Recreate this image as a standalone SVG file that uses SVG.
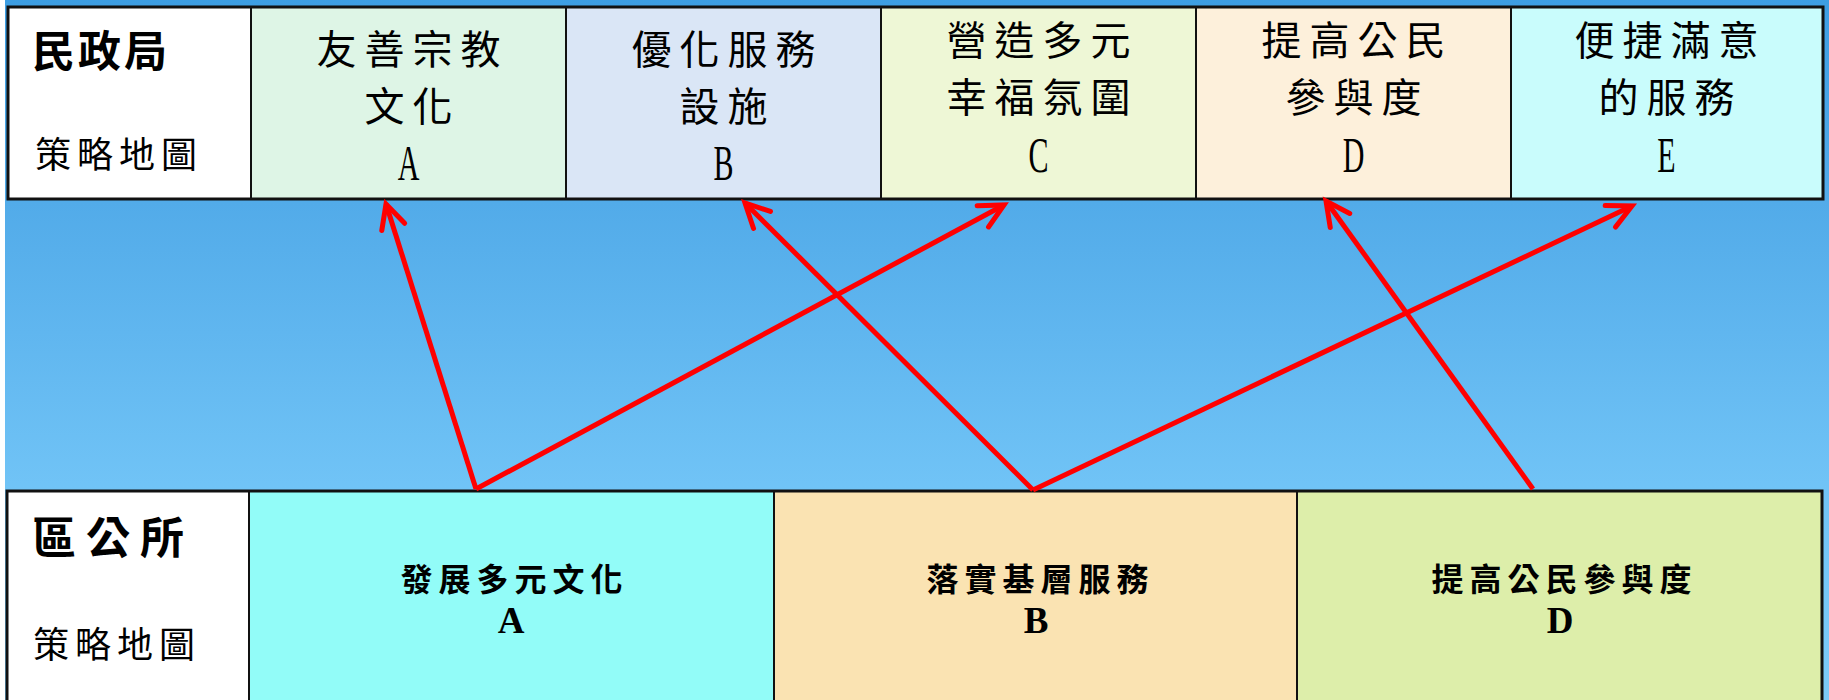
<svg xmlns="http://www.w3.org/2000/svg" width="1829" height="700" viewBox="0 0 1829 700">
<defs>
<linearGradient id="bg" x1="0" y1="0" x2="0" y2="700" gradientUnits="userSpaceOnUse">
<stop offset="0" stop-color="#3d9ee3"/>
<stop offset="0.29" stop-color="#52abe9"/>
<stop offset="0.69" stop-color="#70c3f6"/>
<stop offset="1" stop-color="#7ccbf8"/>
</linearGradient>
<marker id="ah" viewBox="0 0 30 30" refX="27" refY="15" markerWidth="30" markerHeight="30" markerUnits="userSpaceOnUse" orient="auto" overflow="visible">
<path d="M3,3 L27,15 L3,27" fill="none" stroke="#ff0000" stroke-width="5" stroke-linecap="round" stroke-linejoin="miter"/>
</marker>
<style>
.cell{stroke:#111;stroke-width:2}
.frame{fill:none;stroke:#111;stroke-width:3}
.cjk{font-family:"Noto Sans CJK TC","Noto Sans CJK SC",sans-serif;fill:#000}
.top{font-size:40px;letter-spacing:8px;text-anchor:middle}
.lbl{font-size:36px;letter-spacing:6px}
.head{font-size:43px;font-weight:bold;letter-spacing:3px}
.bot{font-size:32px;font-weight:bold;letter-spacing:6px;text-anchor:middle}
.let{font-family:"Liberation Serif",serif;font-size:50px;text-anchor:middle;fill:#000}
.blet{font-family:"Liberation Serif",serif;font-size:37px;font-weight:bold;text-anchor:middle;fill:#000}
.arrow{stroke:#ff0000;stroke-width:5;fill:none;marker-end:url(#ah)}
</style>
</defs>
<rect x="0" y="0" width="1829" height="700" fill="#ffffff"/>
<rect x="5" y="0" width="1824" height="700" fill="url(#bg)"/>

<g id="top-label">
<rect class="cell" x="8" y="7" width="243" height="192" fill="#ffffff"/>
<text class="cjk head" x="32" y="67">民政局</text>
<text class="cjk lbl" x="35" y="168">策略地圖</text>
</g>
<g id="top-A">
<rect class="cell" x="251" y="7" width="315" height="192" fill="#def5e6"/>
<text class="cjk top" x="412.5" y="64">友善宗教</text>
<text class="cjk top" x="412.5" y="121">文化</text>
<text class="let" transform="translate(408.5 180) scale(0.6 1)">A</text>
</g>
<g id="top-B">
<rect class="cell" x="566" y="7" width="315" height="192" fill="#dae6f6"/>
<text class="cjk top" x="727.5" y="64">優化服務</text>
<text class="cjk top" x="727.5" y="121">設施</text>
<text class="let" transform="translate(723.5 180) scale(0.6 1)">B</text>
</g>
<g id="top-C">
<rect class="cell" x="881" y="7" width="315" height="192" fill="#eef7d6"/>
<text class="cjk top" x="1042.5" y="55">營造多元</text>
<text class="cjk top" x="1042.5" y="112">幸福氛圍</text>
<text class="let" transform="translate(1038.5 172) scale(0.6 1)">C</text>
</g>
<g id="top-D">
<rect class="cell" x="1196" y="7" width="315" height="192" fill="#fdf0db"/>
<text class="cjk top" x="1357.5" y="55">提高公民</text>
<text class="cjk top" x="1357.5" y="112">參與度</text>
<text class="let" transform="translate(1353.5 172) scale(0.6 1)">D</text>
</g>
<g id="top-E">
<rect class="cell" x="1511" y="7" width="312" height="192" fill="#c9fcfc"/>
<text class="cjk top" x="1670.5" y="55">便捷滿意</text>
<text class="cjk top" x="1670.5" y="112">的服務</text>
<text class="let" transform="translate(1666.5 172) scale(0.6 1)">E</text>
</g>
<rect class="frame" x="8" y="7" width="1815" height="192"/>

<g id="bottom-label">
<rect class="cell" x="7" y="491" width="242" height="215" fill="#ffffff"/>
<text class="cjk head" x="32" y="554" style="letter-spacing:10px;font-size:44px">區公所</text>
<text class="cjk lbl" x="33" y="658">策略地圖</text>
</g>
<g id="bottom-A">
<rect class="cell" x="249" y="491" width="525" height="215" fill="#92fcf8"/>
<text class="cjk bot" x="514.5" y="591">發展多元文化</text>
<text class="blet" x="511" y="633">A</text>
</g>
<g id="bottom-B">
<rect class="cell" x="774" y="491" width="523" height="215" fill="#fae3b2"/>
<text class="cjk bot" x="1040.5" y="591">落實基層服務</text>
<text class="blet" x="1036" y="633">B</text>
</g>
<g id="bottom-D">
<rect class="cell" x="1297" y="491" width="525" height="215" fill="#ddeeaa"/>
<text class="cjk bot" x="1564.5" y="591">提高公民參與度</text>
<text class="blet" x="1560" y="633">D</text>
</g>
<rect class="frame" x="7" y="491" width="1815" height="215"/>

<g id="connectors">
<line class="arrow" x1="476" y1="489" x2="386" y2="204"/>
<line class="arrow" x1="476" y1="489" x2="1004" y2="205"/>
<line class="arrow" x1="1033" y1="490" x2="745" y2="203"/>
<line class="arrow" x1="1033" y1="490" x2="1632" y2="206"/>
<line class="arrow" x1="1533" y1="489" x2="1326" y2="201"/>
</g>
</svg>
